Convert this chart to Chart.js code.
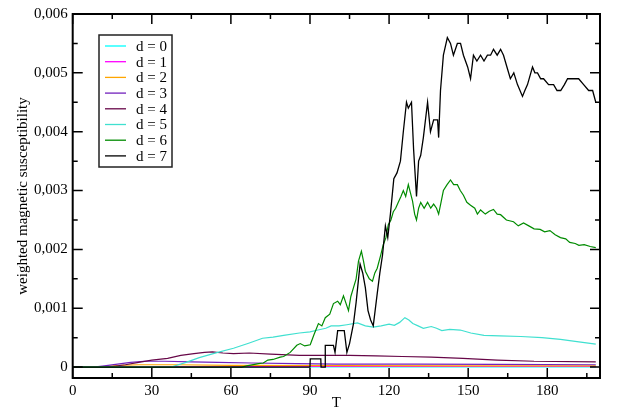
<!DOCTYPE html>
<html>
<head>
<meta charset="utf-8">
<script src="https://cdn.jsdelivr.net/npm/chart.js@4"></script>
<style>
  body { margin: 0; background: #fff; }
  #wrap { width: 626px; height: 412px; position: relative; }
</style>
</head>
<body>
<div id="wrap"><canvas id="chiChart"></canvas></div>
<script>
// series data: [T, weighted susceptibility]
const d0 = [[0, 0], [40, 0.000003], [198.4, 0.000003]];
const d1 = [[0, 0], [10, 0], [20, 0.000005], [40, 0.00001], [100, 0.00001], [198.4, 0.00001]];
const d2 = [[0, 0], [6, 0], [12, 0.00001], [18, 0.00003], [25, 0.00004], [40, 0.00004], [60, 0.00003],
  [100, 0.000025], [150, 0.00002], [198.4, 0.00002]];
const d3 = [[0, 0], [8, 0], [12, 0.00002], [17, 0.00005], [22, 0.00008], [27, 0.0001], [35, 0.0001],
  [45, 0.00009], [55, 0.00008], [68, 0.00007], [85, 0.00006], [100, 0.00005], [130, 0.00005],
  [160, 0.000045], [198.4, 0.00004]];
const d4 = [[0, 0], [12, 0], [15, 0.00001], [20, 0.00004], [25, 0.00008], [30, 0.00012], [36, 0.00015],
  [41, 0.0002], [46, 0.00023], [50, 0.00025], [53, 0.00026], [57, 0.00024], [61, 0.00023], [67, 0.00024],
  [75, 0.00022], [86, 0.0002], [95, 0.0002], [105, 0.0002], [115, 0.00019], [125, 0.00018],
  [136, 0.00017], [148, 0.00015], [161, 0.00012], [175, 0.0001], [198.4, 0.00009]];
const d5 = [[0, 0], [37, 0], [38, 0.00001], [43, 0.00008], [48, 0.00016], [55, 0.00025], [61, 0.00032],
  [67, 0.00041], [72, 0.00049], [76, 0.00051], [80, 0.00054], [86, 0.00058], [90, 0.0006], [93, 0.00063],
  [96, 0.00066], [98, 0.0007], [101, 0.0007], [104, 0.00072], [108, 0.00075], [111, 0.0007],
  [114, 0.00068], [117, 0.0007], [120, 0.00073], [122, 0.00071], [124, 0.00076], [126, 0.00084],
  [127.5, 0.0008], [129, 0.00074], [131, 0.0007], [133, 0.00066], [136, 0.00069], [138, 0.00066],
  [140, 0.00062], [143, 0.00064], [147, 0.00063], [151, 0.00058], [156, 0.00054], [162, 0.00053],
  [170, 0.00052], [178, 0.0005], [185, 0.00047], [192, 0.00043], [198.4, 0.00039]];
const d6 = [[0, 0], [64, 0], [66, 0.00002], [70.5, 0.00006], [72.3, 0.00007], [74, 0.00012], [76, 0.00013],
  [78.7, 0.00017], [80, 0.00018], [82.5, 0.00025], [85, 0.00037], [86.3, 0.0004], [88, 0.00036],
  [90.1, 0.00038], [91.5, 0.00055], [93.2, 0.00074], [94.5, 0.0007], [95.8, 0.00084], [97.5, 0.0009],
  [98.9, 0.00108], [100.5, 0.00112], [101.5, 0.00106], [102.7, 0.00121], [104.6, 0.00096],
  [105.5, 0.0012], [106.5, 0.00135], [107.5, 0.0015], [108.4, 0.0018], [109.5, 0.00197], [110.3, 0.0018],
  [111, 0.00163], [112.5, 0.0015], [113.7, 0.00146], [114.6, 0.0016], [115.5, 0.00168], [116.8, 0.0019],
  [117.8, 0.00208], [118.8, 0.0022], [119.7, 0.00242], [120.7, 0.0025], [121.6, 0.00264], [122.5, 0.0027],
  [123.5, 0.0028], [124.5, 0.0029], [125.4, 0.003], [126.3, 0.0029], [127.3, 0.0031], [128.9, 0.00282],
  [129.7, 0.0026], [130.4, 0.0025], [131.2, 0.0027], [132, 0.0028], [133.3, 0.0027], [134.6, 0.0028],
  [135.8, 0.0027], [136.9, 0.00277], [138, 0.0027], [138.8, 0.0026], [139.7, 0.0028], [140.6, 0.003],
  [142, 0.0031], [143.3, 0.00318], [144.5, 0.0031], [145.9, 0.0031], [147, 0.003], [148.2, 0.00292],
  [149.5, 0.0028], [150.9, 0.00275], [152.5, 0.0027], [153.5, 0.0026], [154.7, 0.00267], [156.5, 0.0026],
  [158, 0.00265], [159.6, 0.00268], [161, 0.0026], [162.3, 0.00259], [164.5, 0.0025], [167.2, 0.00247],
  [169, 0.0024], [171, 0.00245], [173, 0.0024], [175, 0.00235], [177.3, 0.00234], [179, 0.0023],
  [181, 0.00232], [183, 0.00225], [185, 0.0022], [187, 0.00218], [188.5, 0.00212], [190.6, 0.0021],
  [192, 0.00207], [194, 0.00208], [196.3, 0.00205], [198.4, 0.00203]];
const d7 = [[0, 0], [90, 0], [90.1, 0.00014], [94.1, 0.00014], [94.2, 0], [95.7, 0], [95.8, 0.00037],
  [98.9, 0.00037], [99.5, 0.00025], [100.5, 0.00062], [103, 0.00062], [104, 0.00025], [105, 0.0004],
  [106.5, 0.00074], [107.5, 0.0011], [109, 0.00175], [110, 0.0016], [111, 0.00135], [112, 0.00096],
  [113, 0.0008], [114, 0.0007], [115.5, 0.00125], [116.5, 0.0016], [117.5, 0.0019], [118.6, 0.0024],
  [119.5, 0.0022], [120.5, 0.0026], [121.8, 0.0032], [123, 0.0033], [124.3, 0.0035], [125.4, 0.004],
  [126.6, 0.0045], [127.3, 0.0044], [128.5, 0.0045], [129.3, 0.0037], [130.4, 0.0029], [131.2, 0.0035],
  [132, 0.0036], [133, 0.0039], [134.6, 0.0045], [135.7, 0.004], [136.9, 0.0042], [138.4, 0.0042],
  [138.8, 0.0039], [139.5, 0.0047], [140.6, 0.0053], [142.1, 0.0056], [143.3, 0.0055], [144.4, 0.0053],
  [145.9, 0.0055], [147.1, 0.0055], [148.2, 0.0053], [149.8, 0.0051], [150.9, 0.0049], [152, 0.0053],
  [153.3, 0.0052], [154.7, 0.0053], [156, 0.0052], [157.3, 0.0053], [158.5, 0.0053], [159.6, 0.0054],
  [161, 0.0053], [162.3, 0.0054], [163.4, 0.0053], [164.7, 0.0051], [166, 0.0049], [167.3, 0.005],
  [168.7, 0.0048], [170.6, 0.0046], [171.5, 0.0047], [172.5, 0.0048], [174.4, 0.0051], [175.3, 0.005],
  [176.3, 0.005], [177.5, 0.0049], [178.6, 0.0049], [180.5, 0.0048], [182.4, 0.0048], [183.7, 0.0047],
  [185.1, 0.0047], [186.5, 0.0048], [187.7, 0.0049], [189, 0.0049], [190, 0.0049], [191.9, 0.0049],
  [193.8, 0.0048], [195.7, 0.0047], [197.2, 0.0047], [198.4, 0.0045]];

const seriesData = [d0, d1, d2, d3, d4, d5, d6, d7];
const seriesNames = ['d = 0', 'd = 1', 'd = 2', 'd = 3', 'd = 4', 'd = 5', 'd = 6', 'd = 7'];
const seriesColors = ['#00ffff', '#ff00ff', '#ffa500', '#7221bc', '#670748', '#40e0d0', '#008b00', '#000000'];

const xTickValues = [0, 30, 60, 90, 120, 150, 180];
const xMinorValues = [15, 45, 75, 105, 135, 165, 195];
const yTickValues = [0, 0.001, 0.002, 0.003, 0.004, 0.005, 0.006];
const yTickLabels = ['0', '0,001', '0,002', '0,003', '0,004', '0,005', '0,006'];
const yMinorValues = [0.0005, 0.0015, 0.0025, 0.0035, 0.0045, 0.0055];

const serif = "'Liberation Serif', 'Times New Roman', serif";

// frame and inward tick marks on all four sides, like the original plot
const framePlugin = {
  id: 'frame',
  afterDatasetsDraw(chart) {
    const { ctx, chartArea: a, scales } = chart;
    ctx.save();
    ctx.strokeStyle = '#000';
    ctx.lineWidth = 1.5;
    ctx.beginPath();
    xTickValues.concat(xMinorValues).forEach(v => {
      const len = xTickValues.includes(v) ? 10 : 5;
      const x = scales.x.getPixelForValue(v);
      ctx.moveTo(x, a.bottom); ctx.lineTo(x, a.bottom - len);
      ctx.moveTo(x, a.top); ctx.lineTo(x, a.top + len);
    });
    yTickValues.concat(yMinorValues).forEach(v => {
      const len = yTickValues.includes(v) ? 10 : 5;
      const y = scales.y.getPixelForValue(v);
      ctx.moveTo(a.left, y); ctx.lineTo(a.left + len, y);
      ctx.moveTo(a.right, y); ctx.lineTo(a.right - len, y);
    });
    ctx.stroke();
    ctx.lineWidth = 2;
    ctx.strokeRect(a.left, a.top, a.right - a.left, a.bottom - a.top);
    ctx.restore();
  }
};

// boxed legend in the upper left of the plot
const boxLegend = {
  id: 'boxLegend',
  afterDraw(chart) {
    const { ctx } = chart;
    ctx.save();
    ctx.strokeStyle = '#222';
    ctx.lineWidth = 1.5;
    ctx.strokeRect(99, 35, 73, 132);
    ctx.font = '15px ' + serif;
    ctx.textBaseline = 'middle';
    ctx.fillStyle = '#000';
    chart.data.datasets.forEach((ds, i) => {
      const y = 46 + i * 15.7;
      ctx.strokeStyle = ds.borderColor;
      ctx.lineWidth = 1.3;
      ctx.beginPath();
      ctx.moveTo(105, y); ctx.lineTo(126, y);
      ctx.stroke();
      ctx.fillText(ds.label, 136, y + 1);
    });
    ctx.restore();
  }
};

const ctx = document.getElementById('chiChart');
new Chart(ctx, {
  type: 'line',
  data: {
    datasets: seriesData.map((pts, i) => ({
      label: seriesNames[i],
      data: pts.map(p => ({ x: p[0], y: p[1] })),
      borderColor: seriesColors[i],
      borderWidth: i === 7 ? 1.3 : 1.2,
      pointRadius: 0,
      tension: 0,
      fill: false,
      order: 7 - i
    }))
  },
  options: {
    responsive: true,
    maintainAspectRatio: false,
    animation: false,
    events: [],
    layout: { padding: { top: 10, right: 26, bottom: 0, left: 0 } },
    plugins: { legend: { display: false }, tooltip: { enabled: false } },
    scales: {
      x: {
        type: 'linear',
        min: 0,
        max: 200,
        grid: { display: false, drawTicks: false, tickLength: 0 },
        border: { display: false },
        afterBuildTicks: s => { s.ticks = xTickValues.map(v => ({ value: v })); },
        afterFit: s => { s.height = 34; },
        ticks: { color: '#000', padding: 4, maxRotation: 0, font: { family: serif, size: 15 } },
        title: { display: true, text: 'T', color: '#000', padding: { top: 0, bottom: 0 },
          font: { family: serif, size: 15 } }
      },
      y: {
        type: 'linear',
        min: -0.000185,
        max: 0.006,
        grid: { display: false, drawTicks: false, tickLength: 0 },
        border: { display: false },
        afterBuildTicks: s => { s.ticks = yTickValues.map(v => ({ value: v })); },
        afterFit: s => { s.width = 72.7; },
        ticks: {
          color: '#000', padding: 5, font: { family: serif, size: 15 },
          callback: (v, idx) => yTickLabels[idx]
        },
        title: { display: true, text: 'weighted magnetic susceptibility', color: '#000',
          padding: { top: 14, bottom: 0 }, font: { family: serif, size: 15 } }
      }
    }
  },
  plugins: [framePlugin, boxLegend]
});
</script>
</body>
</html>
